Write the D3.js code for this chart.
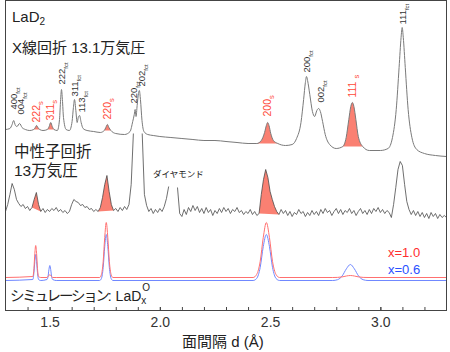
<!DOCTYPE html>
<html>
<head>
<meta charset="utf-8">
<script src="https://cdn.jsdelivr.net/npm/d3@7"></script>
<style>
body { margin: 0; background: #fff; }
svg { display: block; font-family: "Liberation Sans", "Noto Sans CJK JP", sans-serif; }
</style>
</head>
<body>
<div id="vis"></div>
<script>
const width = 450
const height = 352

// X-ray diffraction, 13.1 GPa: [d (A), intensity a.u.]
const xray = [
  [1.300,181],[1.320,182],[1.330,186],[1.337,190],[1.345,185],[1.352,184],[1.364,187],[1.375,183],[1.390,181],[1.410,180],
  [1.428,181],[1.435,183],[1.441,185],[1.447,183],[1.455,181],[1.470,180],[1.490,181],[1.498,184],[1.505,188],[1.512,184],
  [1.520,181],[1.535,180],[1.545,191],[1.550,211],[1.554,221],[1.558,211],[1.563,193],[1.575,181],[1.590,180],[1.602,189],
  [1.608,203],[1.613,211],[1.619,200],[1.625,188],[1.630,193],[1.636,195],[1.643,188],[1.652,182],[1.670,180],[1.700,179],
  [1.730,178],[1.748,180],[1.755,183],[1.762,186],[1.769,183],[1.778,180],[1.800,177],[1.840,176],[1.865,179],[1.877,189],
  [1.884,196],[1.888,201],[1.892,194],[1.897,205],[1.903,217],[1.907,220],[1.912,211],[1.919,190],[1.928,179],[1.945,176],
  [1.970,175],[2.000,174],[2.050,173],[2.100,172],[2.150,171],[2.200,170],[2.250,170],[2.300,169],[2.350,168],[2.400,167],
  [2.440,167],[2.460,170],[2.475,178],[2.483,185],[2.489,188],[2.495,185],[2.503,177],[2.515,170],[2.535,167],[2.570,165],
  [2.600,166],[2.620,172],[2.640,188],[2.652,211],[2.660,228],[2.665,234],[2.670,230],[2.680,216],[2.692,199],[2.702,194],
  [2.712,200],[2.720,202],[2.728,199],[2.738,189],[2.750,176],[2.770,166],[2.800,162],[2.830,164],[2.845,173],[2.857,191],
  [2.866,204],[2.873,208],[2.880,204],[2.889,191],[2.900,174],[2.920,164],[2.950,160],[3.000,160],[3.035,162],[3.055,173],
  [3.072,201],[3.085,243],[3.094,273],[3.099,283],[3.104,273],[3.113,243],[3.126,201],[3.143,173],[3.165,161],[3.200,157],
  [3.250,155],[3.300,154]
]

// neutron diffraction, 13 GPa, sampled every 0.01 A from 1.30 (null = cut)
const neutronStart = 1.30
const neutronStep = 0.01
const neutron = [
  99, 106, 116, 127, 121, 111, 107, 104, 106, 102,
  104, 100, 103, 111, 118, 106, 99, 102, 98, 101,
  99, 102, 100, 103, 99, 101, 98, 100, 97, 99,
  106, 111, 109, 108, 105, 106, 103, 104, 101, 102,
  99, 101, 99, 103, 113, 126, 135, 119, 106, 100,
  102, 99, 103, 100, 104, 101, 106, 126, 177, null,
  null, null, 177, 116, 105, 99, 102, 97, 101, 98,
  102, 99, 104, 112, 124, null, null, null, 123, 97,
  94, 101, 96, 103, 99, 105, 100, 104, 98, 102,
  97, 103, 98, 101, 95, 100, 97, 102, 98, 103,
  99, 102, 97, 101, 99, 103, 98, 100, 96, 99,
  97, 101, 96, 99, 95, 97, 116, 131, 141, 133,
  119, 111, 104, 99, 96, 101, 97, 100, 95, 99,
  94, 98, 96, 101, 97, 99, 94, 98, 95, 100,
  96, 99, 95, 101, 97, 102, 98, 100, 95, 99,
  102, 97, 101, 96, 100, 98, 102, 97, 100, 95,
  99, 102, 97, 100, 96, 101, 97, 102, 99, 103,
  98, 101, 97, 100, 98, 93, 106, 123, 141, 149,
  145, 126, 109, 101, 96, 100, 95, 99, 94, 98,
  93, 97, 92, 98, 94, 97, 92, 96, 93, 95,
  93
]

// simulation LaDx
const simD = [1.300, 1.424, 1.429, 1.433, 1.437, 1.441, 1.445, 1.450, 1.460,
  1.488, 1.493, 1.497, 1.501, 1.505, 1.509, 1.514, 1.530,
  1.727, 1.735, 1.743, 1.750, 1.757, 1.764, 1.771, 1.779, 1.787,
  2.423, 2.439, 2.455, 2.469, 2.483, 2.497, 2.511, 2.527, 2.543,
  2.784, 2.806, 2.827, 2.846, 2.864, 2.882, 2.901, 2.922, 2.944, 3.300]
const simX10 = [33, 34, 42, 57, 65, 57, 42, 34, 33,
  33, 34, 35, 36, 35, 34, 33, 33,
  33, 36, 49, 73, 88, 73, 49, 36, 33,
  33, 36, 49, 73, 88, 73, 49, 36, 33,
  33, 33.1, 33.6, 34.5, 35, 34.5, 33.6, 33.1, 33, 33]
const simX06 = [30, 31, 38, 49, 56, 49, 38, 31, 30,
  31, 34, 41, 45, 41, 34, 31, 30,
  30, 32, 43, 64, 76, 64, 43, 32, 30,
  30, 32, 43, 64, 76, 64, 43, 32, 30,
  30, 30.8, 34.6, 41.7, 46, 41.7, 34.6, 30.8, 30, 30]

// shaded "s" peaks [from d, to d]
const xrayFills = [[1.428, 1.455], [1.490, 1.520], [1.748, 1.778], [2.440, 2.535], [2.830, 2.920]]
const neutronFills = [[1.42, 1.46], [1.72, 1.79], [2.45, 2.54]]

// peak labels: [hkl, subscript, d, label level]
const xrayLabels = [
  ["400", "fct", 1.337, 201], ["004", "fct", 1.369, 196],
  ["222", "s", 1.441, 188], ["311", "s", 1.505, 190],
  ["222", "fct", 1.554, 226], ["311", "fct", 1.613, 214], ["113", "fct", 1.645, 198],
  ["220", "s", 1.762, 191],
  ["220", "fct", 1.879, 207], ["202", "fct", 1.915, 224],
  ["200", "s", 2.489, 194],
  ["200", "fct", 2.665, 238], ["002", "fct", 2.728, 208],
  ["111", "s", 2.873, 213],
  ["111", "fct", 3.099, 286]
]

const minorTicks = d3.range(14, 33).map(k => k / 10)
const majorTicks = [1.5, 2.0, 2.5, 3.0]

const red = "#ff4a3a"
const fillRed = "#fa8072"

const svg = d3.select("#vis")
    .append("svg")
    .attr("width", width)
    .attr("height", height)

const x = d3.scaleLinear([1.3, 3.3], [5.5, 446.5])
const y = d3.scaleLinear([0, 310], [310.5, 0.5])

const neutronPts = neutron.map((v, i) => [neutronStart + i * neutronStep, v])

const smooth = d3.line()
    .x(d => x(d[0]))
    .y(d => y(d[1]))
    .curve(d3.curveMonotoneX)

const jagged = d3.line()
    .defined(d => d[1] !== null)
    .x(d => x(d[0]))
    .y(d => y(d[1]))

// fills
svg.selectAll("path.xfill")
    .data(xrayFills)
    .join("path")
        .attr("class", "xfill")
        .attr("d", r => smooth(xray.filter(p => p[0] >= r[0] - 1e-6 && p[0] <= r[1] + 1e-6)) + "Z")
        .attr("fill", fillRed)

svg.selectAll("path.nfill")
    .data(neutronFills)
    .join("path")
        .attr("class", "nfill")
        .attr("d", r => jagged(neutronPts.filter(p => p[0] >= r[0] - 1e-6 && p[0] <= r[1] + 1e-6)) + "Z")
        .attr("fill", fillRed)

// traces
svg.append("path")
    .attr("d", smooth(xray))
    .attr("fill", "none")
    .attr("stroke", "#7a7a7a")
    .attr("stroke-width", 1)

svg.append("path")
    .attr("d", jagged(neutronPts))
    .attr("fill", "none")
    .attr("stroke", "#4a4a4a")
    .attr("stroke-width", 0.8)

const simLine = vals => smooth(simD.map((d, i) => [d, vals[i]]))

svg.append("path")
    .attr("d", simLine(simX06))
    .attr("fill", "none")
    .attr("stroke", "#7088ff")
    .attr("stroke-width", 1)

svg.append("path")
    .attr("d", simLine(simX10))
    .attr("fill", "none")
    .attr("stroke", "#ff7070")
    .attr("stroke-width", 1)

// peak labels
const labels = svg.selectAll("text.peak")
    .data(xrayLabels)
    .join("text")
        .attr("class", "peak")
        .attr("transform", d => `translate(${x(d[2])},${y(d[3])}) rotate(-90)`)
        .attr("dy", "0.36em")
        .attr("fill", d => d[1] === "s" ? red : "#333")
        .attr("font-size", d => d[1] === "s" ? 10.5 : 9.5)

labels.append("tspan").text(d => d[0])
labels.append("tspan")
    .attr("dx", d => d[0] === "111" && d[1] === "s" ? 3 : 0)
    .attr("dy", 3)
    .attr("font-size", d => d[1] === "s" ? 7.5 : 6)
    .text(d => d[1])

// frame and axis
svg.append("rect")
    .attr("x", 5.5).attr("y", 0.5)
    .attr("width", 441).attr("height", 310)
    .attr("fill", "none")
    .attr("stroke", "#444")

const minorAxis = svg.append("g")
    .attr("transform", "translate(0,310.5)")
    .call(d3.axisBottom(x).tickValues(minorTicks).tickSize(-3.5).tickFormat(() => ""))
minorAxis.select(".domain").remove()
minorAxis.selectAll("line").attr("stroke", "#444")

const majorAxis = svg.append("g")
    .attr("transform", "translate(0,310.5)")
    .call(d3.axisBottom(x).tickValues(majorTicks).tickSize(-3.5).tickPadding(6.5).tickFormat(d3.format(".1f")))
majorAxis.select(".domain").remove()
majorAxis.selectAll("line").attr("stroke", "#444")
majorAxis.attr("font-family", null).attr("font-size", 14)
majorAxis.selectAll("text").attr("fill", "#333")

svg.append("text")
    .attr("x", 182).attr("y", 347)
    .attr("font-size", 15).attr("fill", "#222")
    .text("面間隔 d (Å)")

// headings
const t1 = svg.append("text").attr("x", 12).attr("y", 22).attr("font-size", 15).attr("fill", "#222")
t1.append("tspan").text("LaD")
t1.append("tspan").attr("font-size", 10).attr("dy", 3).text("2")

svg.append("text").attr("x", 12).attr("y", 53).attr("font-size", 15).attr("fill", "#222")
    .text("X線回折 13.1万気圧")

svg.append("text").attr("x", 14).attr("y", 157).attr("font-size", 15.5).attr("fill", "#222")
    .text("中性子回折")
svg.append("text").attr("x", 14).attr("y", 176).attr("font-size", 15.5).attr("fill", "#222")
    .text("13万気圧")

svg.append("text").attr("x", 153).attr("y", 177).attr("font-size", 8.5).attr("fill", "#222")
    .text("ダイヤモンド")

const t2 = svg.append("text").attr("x", 10).attr("y", 301).attr("fill", "#222")
t2.append("tspan").attr("font-size", 14.5).attr("letter-spacing", -2.2).text("シミュレーション")
t2.append("tspan").attr("font-size", 14).text(": LaD")
t2.append("tspan").attr("font-size", 10).attr("dy", 3).text("x")
t2.append("tspan").attr("font-size", 10).attr("dx", -4).attr("dy", -13).text("O")

svg.append("text").attr("x", 388).attr("y", 257).attr("font-size", 13).attr("fill", "#ff2e2e")
    .text("x=1.0")
svg.append("text").attr("x", 388).attr("y", 274).attr("font-size", 13).attr("fill", "#2a50ff")
    .text("x=0.6")
</script>
</body>
</html>
